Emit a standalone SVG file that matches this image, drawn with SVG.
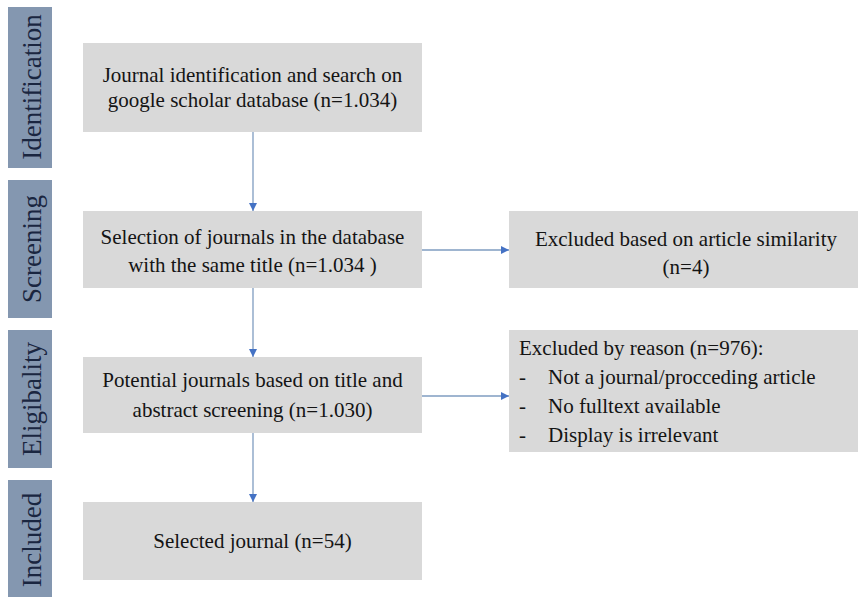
<svg xmlns="http://www.w3.org/2000/svg" width="858" height="597" viewBox="0 0 858 597">
<style>
.bar{fill:#8497b0;}
.bartxt{font-family:"Liberation Serif","Times New Roman",serif;font-size:27px;fill:#1a2640;text-anchor:middle;}
.box{fill:#d9d9d9;}
.txt{font-family:"Liberation Serif","Times New Roman",serif;font-size:21px;fill:#141414;}
.c{text-anchor:middle;}
.conn{stroke:#7f9cc0;stroke-width:1.3;fill:none;marker-end:url(#ah);}
</style>
<defs>
<marker id="ah" markerUnits="userSpaceOnUse" markerWidth="8" markerHeight="8" refX="8" refY="4" orient="auto">
<path d="M0,0 L8,4 L0,8 z" fill="#4472c4"/>
</marker>
</defs>
<rect width="858" height="597" fill="#ffffff"/>
<g id="stage-identification">
<rect class="bar" x="8" y="7" width="44" height="161"/>
<text class="bartxt" transform="translate(41,87) rotate(-90)">Identification</text>
</g>
<g id="stage-screening">
<rect class="bar" x="8" y="180" width="44" height="138"/>
<text class="bartxt" transform="translate(41,249) rotate(-90)">Screening</text>
</g>
<g id="stage-eligibility">
<rect class="bar" x="8" y="330" width="44" height="138"/>
<text class="bartxt" transform="translate(41,399) rotate(-90)">Eligibality</text>
</g>
<g id="stage-included">
<rect class="bar" x="8" y="480" width="44" height="120"/>
<text class="bartxt" transform="translate(41,540) rotate(-90)">Included</text>
</g>
<g id="box-identification">
<rect class="box" x="83" y="43" width="339" height="89"/>
<text class="txt c" x="252.5" y="82">Journal identification and search on</text>
<text class="txt c" x="252.5" y="106.5">google scholar database (n=1.034)</text>
</g>
<g id="box-screening">
<rect class="box" x="83" y="211" width="339" height="77"/>
<text class="txt c" x="252.5" y="243.5">Selection of journals in the database</text>
<text class="txt c" x="252.5" y="272">with the same title (n=1.034 )</text>
</g>
<g id="box-eligibility">
<rect class="box" x="83" y="357" width="339" height="76"/>
<text class="txt c" x="252.5" y="387">Potential journals based on title and</text>
<text class="txt c" x="252.5" y="416.5">abstract screening (n=1.030)</text>
</g>
<g id="box-included">
<rect class="box" x="83" y="502" width="339" height="78"/>
<text class="txt c" x="252.5" y="548">Selected journal (n=54)</text>
</g>
<g id="box-excluded-similarity">
<rect class="box" x="509" y="211" width="349" height="77"/>
<text class="txt c" x="686" y="245.5">Excluded based on article similarity</text>
<text class="txt c" x="686" y="274">(n=4)</text>
</g>
<g id="box-excluded-reason">
<rect class="box" x="509" y="330" width="349" height="122"/>
<text class="txt" x="519" y="355">Excluded by reason (n=976):</text>
<text class="txt" x="519" y="383.5">-</text>
<text class="txt" x="548" y="383.5">Not a journal/procceding article</text>
<text class="txt" x="519" y="413">-</text>
<text class="txt" x="548" y="413">No fulltext available</text>
<text class="txt" x="519" y="441.5">-</text>
<text class="txt" x="548" y="441.5">Display is irrelevant</text>
</g>
<g id="connectors">
<line class="conn" x1="253" y1="132" x2="253" y2="211"/>
<line class="conn" x1="253" y1="288" x2="253" y2="357"/>
<line class="conn" x1="253" y1="433" x2="253" y2="502"/>
<line class="conn" x1="422" y1="250" x2="509" y2="250"/>
<line class="conn" x1="422" y1="396" x2="509" y2="396"/>
</g>
</svg>
